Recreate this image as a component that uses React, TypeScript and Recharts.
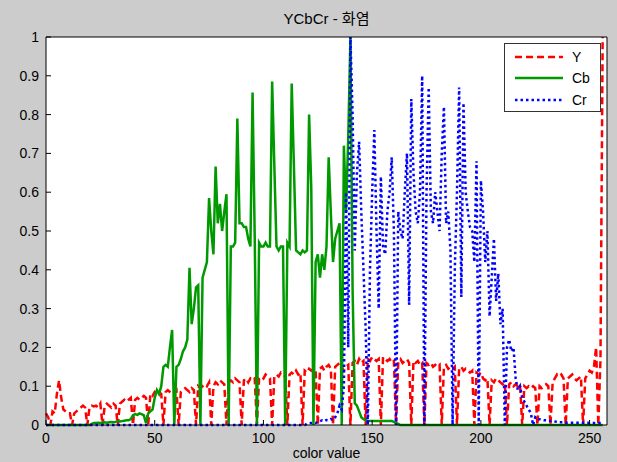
import React from 'react';
import { LineChart, Line, XAxis, YAxis, CartesianGrid, Legend } from 'recharts';

const FONT = '"Liberation Sans", Arial, "Noto Sans CJK KR", sans-serif';

const xTicks = [0, 50, 100, 150, 200, 250];
const yTicks = [0, 0.1, 0.2, 0.3, 0.4, 0.5, 0.6, 0.7, 0.8, 0.9, 1];

// histogram values, bins 0..256
const yVals = [
  0.03, 0.02, 0, 0.035, 0.03, 0.08, 0.115, 0.07, 0.04, 0.035, // 0
  0.03, 0.03, 0, 0.03, 0.035, 0.04, 0.045, 0.05, 0.045, 0, // 10
  0.045, 0.05, 0.048, 0.05, 0.045, 0.055, 0, 0.05, 0.055, 0.05, // 20
  0.045, 0.055, 0.05, 0, 0.055, 0.06, 0.065, 0.06, 0.065, 0.07, // 30
  0, 0.065, 0.07, 0.065, 0.07, 0.075, 0.07, 0, 0.08, 0.075, // 40
  0.085, 0.08, 0.085, 0.08, 0, 0.085, 0.09, 0.085, 0.08, 0.085, // 50
  0.09, 0, 0.085, 0.09, 0.095, 0.09, 0.085, 0.095, 0.09, 0, // 60
  0.1, 0.095, 0.1, 0.105, 0.1, 0.11, 0, 0.1, 0.11, 0.105, // 70
  0.115, 0.11, 0.105, 0, 0.11, 0.115, 0.11, 0.12, 0.115, 0.11, // 80
  0, 0.115, 0.12, 0.11, 0.12, 0.115, 0.12, 0, 0.12, 0.125, // 90
  0.12, 0.13, 0.125, 0.12, 0, 0.125, 0.13, 0.125, 0.135, 0.13, // 100
  0.125, 0, 0.13, 0.135, 0.13, 0.14, 0.13, 0.135, 0, 0.14, // 110
  0.135, 0.145, 0.14, 0.145, 0.14, 0, 0.145, 0.15, 0.14, 0.15, // 120
  0.155, 0.145, 0, 0.15, 0.155, 0.16, 0.15, 0.14, 0.15, 0.155, // 130
  0, 0.16, 0.165, 0.155, 0.17, 0.16, 0.165, 0, 0.17, 0.165, // 140
  0.175, 0.17, 0.165, 0.17, 0, 0.175, 0.17, 0.165, 0.17, 0.16, // 150
  0.165, 0, 0.165, 0.17, 0.16, 0.165, 0.17, 0.16, 0, 0.165, // 160
  0.16, 0.165, 0.155, 0.16, 0, 0.16, 0.155, 0.16, 0.15, 0.155, // 170
  0.15, 0.155, 0, 0.15, 0.155, 0.145, 0.15, 0.145, 0.15, 0, // 180
  0.145, 0.15, 0.14, 0.145, 0.14, 0.135, 0.14, 0, 0.135, 0.13, // 190
  0.135, 0.12, 0.115, 0.12, 0, 0.115, 0.11, 0.12, 0.115, 0.11, // 200
  0.105, 0.11, 0, 0.105, 0.11, 0.1, 0.105, 0.1, 0.105, 0, // 210
  0.1, 0.095, 0.1, 0.095, 0.1, 0.095, 0, 0.1, 0.095, 0.1, // 220
  0.105, 0.1, 0, 0.11, 0.12, 0.13, 0.125, 0.13, 0.12, 0, // 230
  0.12, 0.125, 0.13, 0.12, 0.115, 0.12, 0.125, 0, 0.12, 0.13, // 240
  0.14, 0.135, 0.15, 0.2, 0, 0.17, 1, // 250
];

const cbVals = [
  0, 0, 0, 0, 0, 0, 0, 0, 0, 0, // 0
  0, 0, 0, 0, 0, 0, 0, 0, 0, 0, // 10
  0, 0.003, 0.005, 0.005, 0.006, 0.005, 0.006, 0.007, 0.006, 0.007, // 20
  0.008, 0.007, 0.008, 0.01, 0.009, 0.01, 0.011, 0.012, 0.012, 0.015, // 30
  0.025, 0.028, 0.026, 0.03, 0.028, 0.025, 0.005, 0.03, 0.035, 0.04, // 40
  0.07, 0.09, 0.08, 0.1, 0.15, 0.155, 0.15, 0.2, 0.245, 0, // 50
  0.15, 0.155, 0.17, 0.19, 0.2, 0.22, 0.405, 0.26, 0.3, 0.355, // 60
  0.36, 0, 0.38, 0.4, 0.42, 0.585, 0.5, 0.44, 0.666, 0.52, // 70
  0.57, 0.5, 0.55, 0.595, 0, 0.46, 0.46, 0.47, 0.79, 0.52, // 80
  0.52, 0.51, 0.51, 0.48, 0.46, 0.857, 0.48, 0, 0.47, 0.46, // 90
  0.46, 0.47, 0.46, 0.46, 0.885, 0.67, 0.46, 0.45, 0.46, 0.46, // 100
  0, 0.47, 0.46, 0.88, 0.67, 0.45, 0.445, 0.44, 0.45, 0.445, // 110
  0.45, 0.8, 0.61, 0, 0.42, 0.44, 0.38, 0.44, 0.4, 0.46, // 120
  0.69, 0.545, 0.42, 0.48, 0.5, 0.52, 0, 0.72, 0.55, 0.74, // 130
  1, 0.35, 0.056, 0.05, 0.035, 0.02, 0.015, 0.013, 0.01, 0.01, // 140
  0.01, 0.01, 0.01, 0.01, 0.01, 0.01, 0.01, 0.01, 0.01, 0.01, // 150
  0.008, 0.005, 0.003, 0, 0, 0, 0, 0, 0, 0, // 160
  0, 0, 0, 0, 0, 0, 0, 0, 0, 0, // 170
  0, 0, 0, 0, 0, 0, 0, 0, 0, 0, // 180
  0, 0, 0, 0, 0, 0, 0, 0, 0, 0, // 190
  0, 0, 0, 0, 0, 0, 0, 0, 0, 0, // 200
  0, 0, 0, 0, 0, 0, 0, 0, 0, 0, // 210
  0, 0, 0, 0, 0, 0, 0, 0, 0, 0, // 220
  0, 0, 0, 0, 0, 0, 0, 0, 0, 0, // 230
  0, 0, 0, 0, 0, 0, 0, 0, 0, 0, // 240
  0, 0, 0, 0, 0, 0, 0, // 250
];

const crVals = [
  0, 0, 0, 0, 0, 0, 0, 0, 0, 0, // 0
  0, 0, 0, 0, 0, 0, 0, 0, 0, 0, // 10
  0, 0, 0, 0, 0, 0, 0, 0, 0, 0, // 20
  0, 0, 0, 0, 0, 0, 0, 0, 0, 0, // 30
  0, 0, 0, 0, 0, 0, 0, 0, 0, 0, // 40
  0, 0, 0, 0, 0, 0, 0, 0, 0, 0, // 50
  0, 0, 0, 0, 0, 0, 0, 0, 0, 0, // 60
  0, 0, 0, 0, 0, 0, 0, 0, 0, 0, // 70
  0, 0, 0, 0, 0, 0, 0, 0, 0, 0, // 80
  0, 0, 0, 0, 0, 0, 0, 0, 0, 0, // 90
  0, 0, 0, 0, 0, 0, 0, 0, 0, 0, // 100
  0, 0, 0, 0, 0, 0, 0, 0, 0, 0, // 110
  0.003, 0.004, 0.005, 0.006, 0.005, 0.008, 0.01, 0.012, 0.01, 0.013, // 120
  0.012, 0.015, 0.013, 0.02, 0.03, 0.05, 0.04, 0.1, 0.6, 0.2, // 130
  1, 0.8, 0.45, 0.65, 0.73, 0.55, 0.4, 0.25, 0, 0.4, // 140
  0.6, 0.76, 0.5, 0.3, 0.64, 0.46, 0.44, 0.55, 0.6, 0.69, // 150
  0.5, 0, 0.55, 0.5, 0.48, 0.6, 0.7, 0.31, 0.84, 0.65, // 160
  0.55, 0.52, 0.6, 0.9, 0, 0.6, 0.87, 0.55, 0.52, 0.6, // 170
  0.55, 0.5, 0.7, 0.82, 0.52, 0.55, 0.45, 0, 0.4, 0.6, // 180
  0.87, 0.33, 0.83, 0.6, 0.55, 0.51, 0.5, 0.42, 0.68, 0, // 190
  0.63, 0.55, 0.42, 0.5, 0.28, 0.38, 0.48, 0.32, 0.39, 0.26, // 200
  0.3, 0, 0.2, 0.22, 0.19, 0.2, 0.12, 0.09, 0.1, 0.07, // 210
  0.06, 0.05, 0.04, 0.03, 0, 0.02, 0.015, 0.015, 0.013, 0.012, // 220
  0.012, 0.01, 0.01, 0.01, 0.009, 0.008, 0.007, 0.007, 0.007, 0.006, // 230
  0.006, 0.006, 0.006, 0.006, 0.006, 0.006, 0.006, 0.006, 0.006, 0.006, // 240
  0.005, 0.005, 0.005, 0.005, 0.005, 0.005, 0.005, // 250
];

const series = [
  { key: 'Y', color: '#ff0000', dash: '7 4', width: 2.5 },
  { key: 'Cb', color: '#009900', dash: undefined, width: 2.5 },
  { key: 'Cr', color: '#0000ff', dash: '2.5 3', width: 2.5 },
];

const chartData = yVals.map((v, i) => ({ x: i, Y: v, Cb: cbVals[i], Cr: crVals[i] }));

const tickStyle = { fill: '#000', fontSize: 14, fontFamily: FONT };

const renderLegend = (props: any) => {
  const items = props.payload || [];
  // keep the order in which the series were plotted
  const ordered = series
    .map((s) => ({ s, item: items.find((it: any) => it.dataKey === s.key) }))
    .filter((d) => d.item);
  return (
    <div
      style={{
        width: 97,
        height: 69,
        boxSizing: 'border-box',
        border: '1px solid #333',
        background: '#fff',
        paddingTop: 2,
        fontFamily: FONT,
        fontSize: 14,
      }}
    >
      {ordered.map(({ s, item }) => (
        <div key={s.key} style={{ display: 'flex', alignItems: 'center', height: 21.5 }}>
          <svg width={57} height={6} style={{ marginLeft: 10 }}>
            <line x1={0} x2={48} y1={3} y2={3} stroke={item.color} strokeWidth={2.5} strokeDasharray={s.dash} />
          </svg>
          <span style={{ color: '#000' }}>{item.value}</span>
        </div>
      ))}
    </div>
  );
};

export default function App() {
  return (
    <div
      style={{
        position: 'absolute',
        left: 0,
        top: 0,
        width: 617,
        height: 462,
        background: '#cccccc',
        overflow: 'hidden',
        fontFamily: FONT,
      }}
    >
      <div
        style={{
          position: 'absolute',
          left: 46,
          width: 561,
          top: 10,
          textAlign: 'center',
          fontSize: 15,
          lineHeight: '18px',
          color: '#000',
          zIndex: 2,
        }}
      >
        YCbCr - 화염
      </div>
      <LineChart width={617} height={462} data={chartData} margin={{ top: 0, right: 9, bottom: 0, left: 6 }}>
        <CartesianGrid fill="#ffffff" horizontal={false} vertical={false} />
        <XAxis
          dataKey="x"
          type="number"
          domain={[0, 258]}
          ticks={xTicks}
          height={37}
          tickSize={-5}
          tickMargin={13}
          stroke="#000"
          tick={tickStyle}
          label={{ value: 'color value', position: 'insideBottom', offset: 4, fill: '#000', fontSize: 14, fontFamily: FONT }}
        />
        <XAxis
          xAxisId="top"
          orientation="top"
          type="number"
          domain={[0, 258]}
          ticks={xTicks}
          height={37}
          tickSize={-5}
          stroke="#000"
          tick={false}
        />
        <YAxis
          type="number"
          domain={[0, 1]}
          ticks={yTicks}
          width={40}
          tickSize={-5}
          tickMargin={12}
          stroke="#000"
          tick={tickStyle}
        />
        <YAxis
          yAxisId="right"
          orientation="right"
          type="number"
          domain={[0, 1]}
          ticks={yTicks}
          width={1}
          tickSize={-5}
          stroke="#000"
          tick={false}
        />
        <Legend
          layout="horizontal"
          verticalAlign="middle"
          align="center"
          content={renderLegend}
          wrapperStyle={{ left: 504, top: 43, width: 97, height: 69 }}
        />
        {series.map((s) => (
          <Line
            key={s.key}
            dataKey={s.key}
            name={s.key}
            type="linear"
            stroke={s.color}
            strokeWidth={s.width}
            strokeDasharray={s.dash}
            dot={false}
            activeDot={false}
            isAnimationActive={false}
          />
        ))}
      </LineChart>
    </div>
  );
}
